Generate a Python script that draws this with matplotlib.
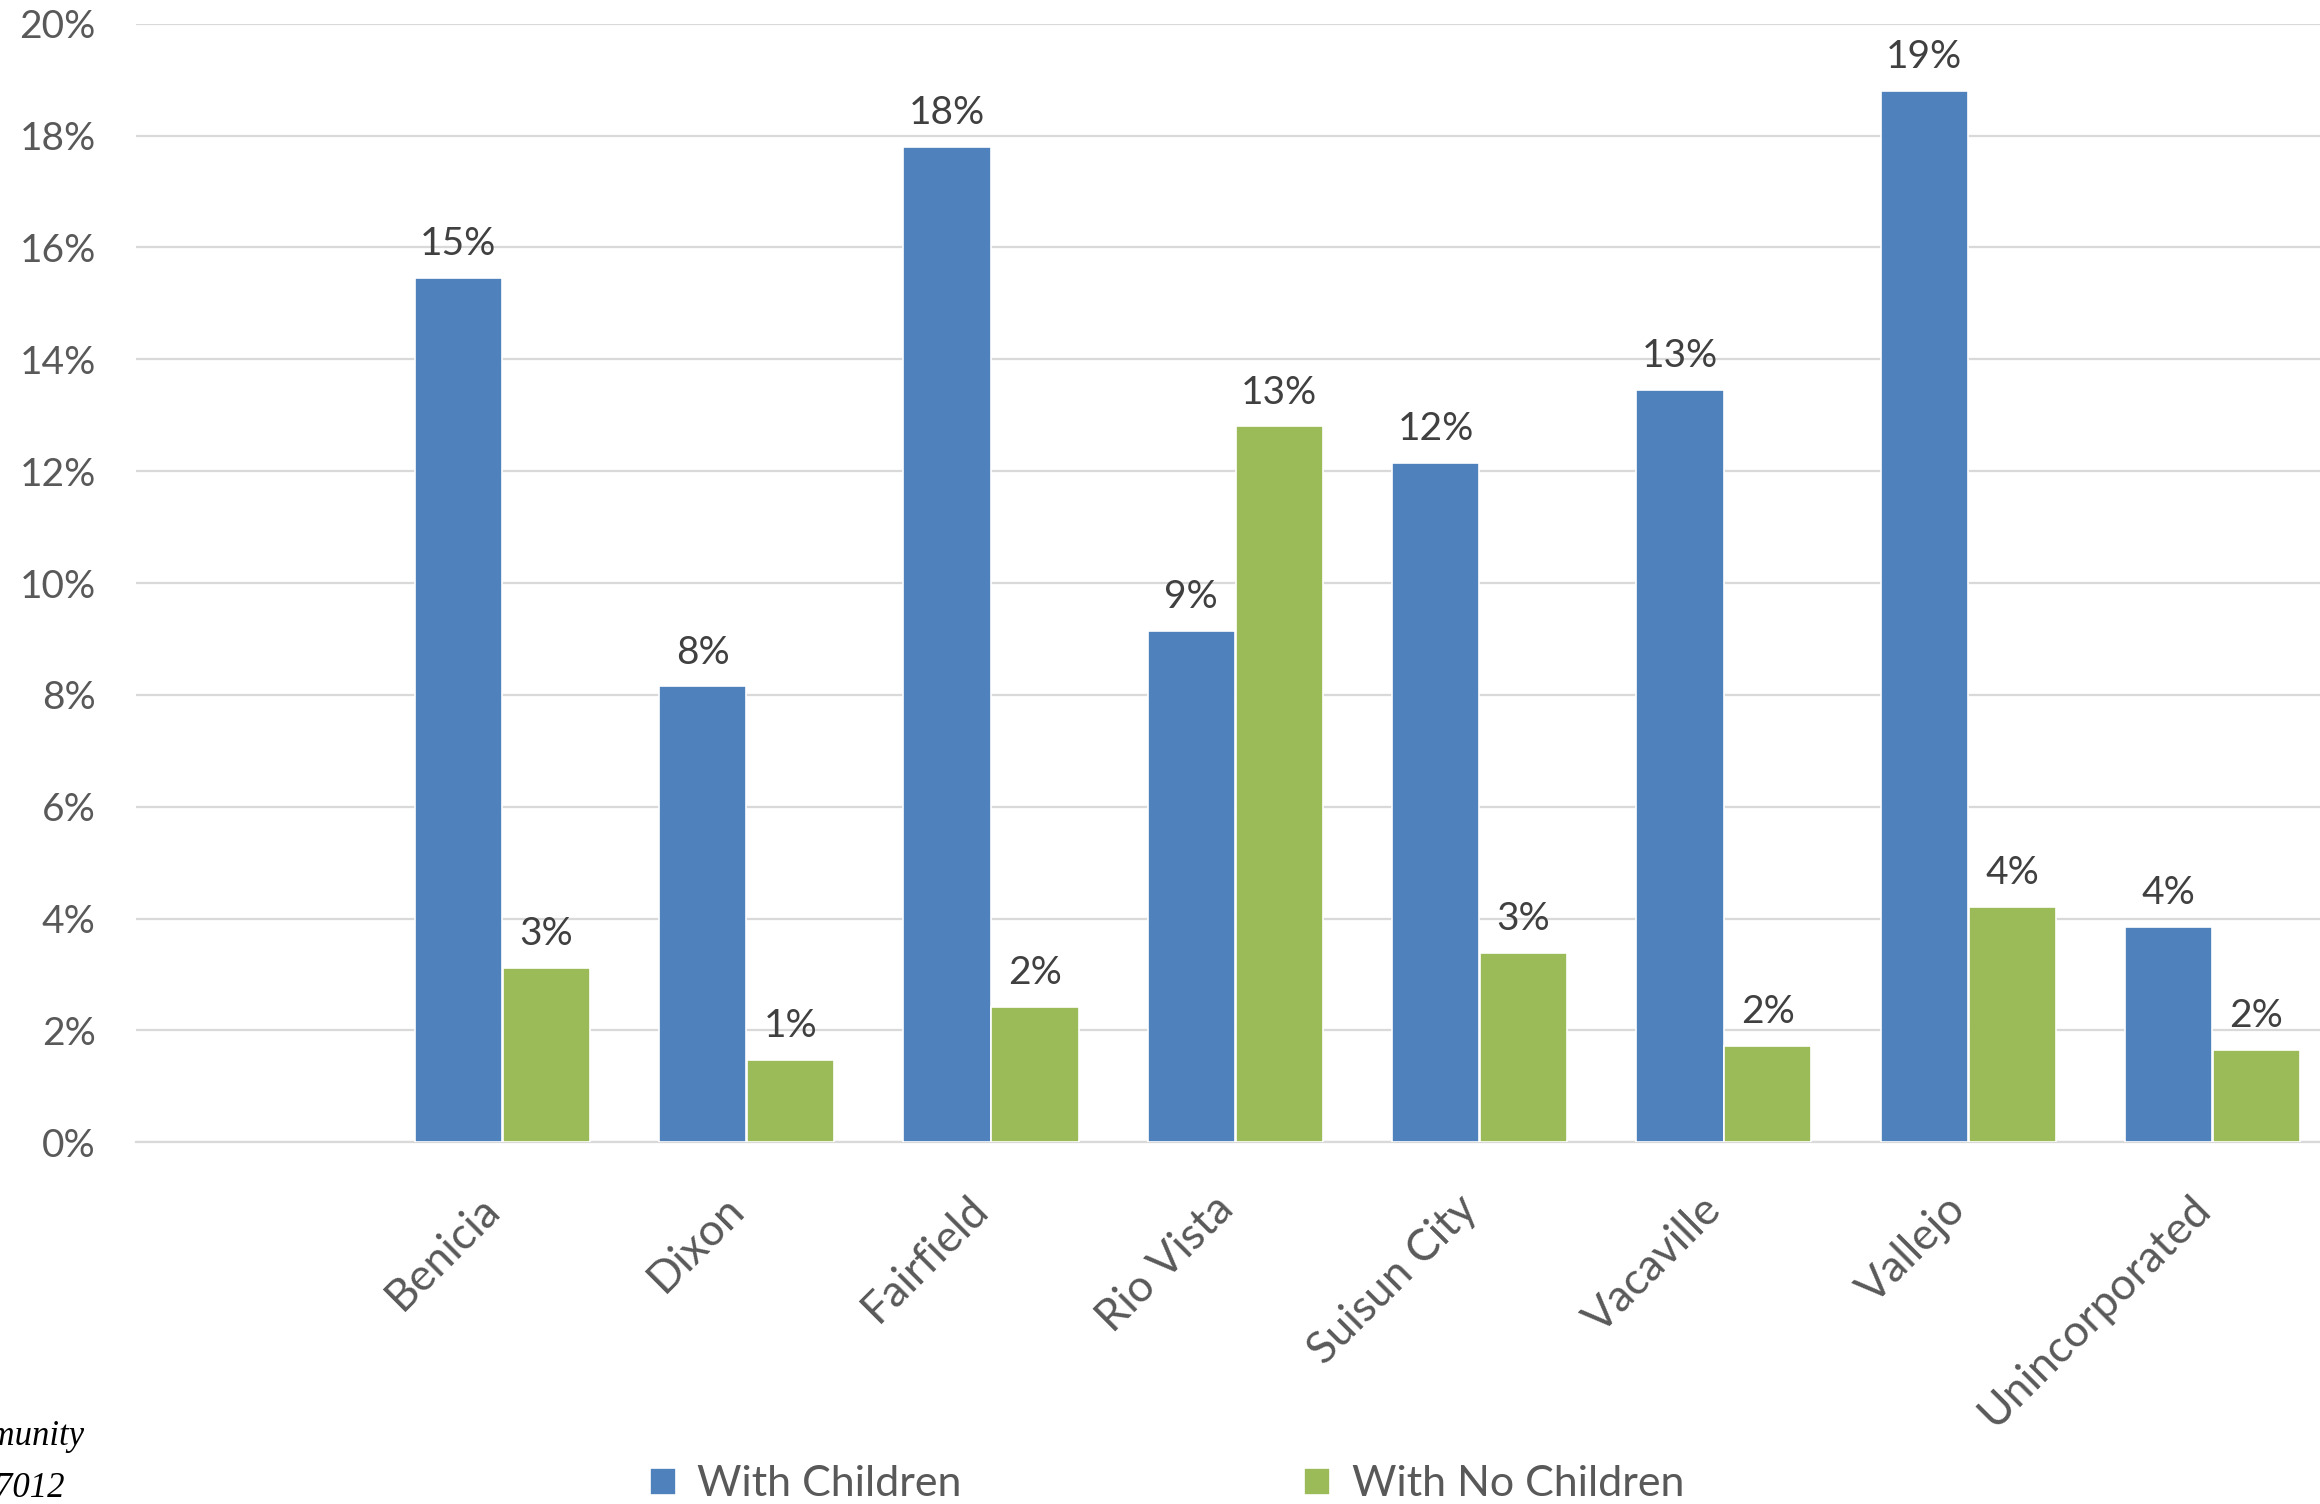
import matplotlib.pyplot as plt
from matplotlib.ticker import FuncFormatter
import numpy as np

plt.rcParams['font.family'] = ['Lato', 'DejaVu Sans']

cities = ["Benicia", "Dixon", "Fairfield", "Rio Vista", "Suisun City",
          "Vacaville", "Vallejo", "Unincorporated"]
with_children = [15.45, 8.15, 17.8, 9.15, 12.15, 13.45, 18.8, 3.85]
no_children = [3.12, 1.48, 2.42, 12.8, 3.38, 1.72, 4.2, 1.65]

blue = "#4F81BD"
green = "#9BBB59"
grid_col = "#d9d9d9"
tick_col = "#595959"
label_col = "#404040"

fig = plt.figure(figsize=(23.2, 15.04), dpi=100)
ax = fig.add_axes([0.0586, 0.2405, 0.9477, 0.7437])

x = np.arange(len(cities))
w = 0.357
b1 = ax.bar(x - 0.18, with_children, w, color=blue, edgecolor="white",
            linewidth=1.2, label="With Children", zorder=3)
b2 = ax.bar(x + 0.18, no_children, w, color=green, edgecolor="white",
            linewidth=1.2, label="With No Children", zorder=3)

for bars, vals in ((b1, with_children), (b2, no_children)):
    for rect, v in zip(bars, vals):
        ax.annotate(f"{v:.0f}%", (rect.get_x() + rect.get_width() / 2, v),
                    xytext=(0, 16.5), textcoords="offset points",
                    ha="center", va="baseline", fontsize=28, color=label_col)

ax.set_xlim(-1.5, len(cities) - 0.5)
ax.set_ylim(0, 20)
ax.set_yticks(np.arange(0, 21, 2))
ax.yaxis.set_major_formatter(FuncFormatter(lambda v, p: f"{v:.0f}%"))
ax.grid(axis="y", color=grid_col, linewidth=1.6, zorder=0)
ax.set_axisbelow(True)

for s in ("top", "right", "left"):
    ax.spines[s].set_visible(False)
ax.spines["bottom"].set_color(grid_col)
ax.spines["bottom"].set_linewidth(1.6)

ax.tick_params(axis="y", length=0, pad=29, labelsize=28, labelcolor=tick_col)
ax.tick_params(axis="x", length=0, pad=50, labelsize=32, labelcolor=tick_col)
ax.set_xticks(x)
ax.set_xticklabels(cities, rotation=45, ha="right", va="baseline",
                   rotation_mode="anchor")

leg = fig.legend(handles=[b1, b2], loc="center left", bbox_to_anchor=(0.2635, 0.013),
                 ncol=2, frameon=False, fontsize=31, handlelength=0.6,
                 handleheight=0.6, handletextpad=0.5, columnspacing=7.95)
for t in leg.get_texts():
    t.set_color(tick_col)

# source note along the left edge
fig.text(0.0362, 0.0392, "Source: U.S. Census Bureau, American Community",
         ha="right", va="baseline", fontsize=25, family="Liberation Serif",
         style="italic", color="black")
fig.text(0.0276, 0.0047, "Survey 5-Year Estimates, Table B17012",
         ha="right", va="baseline", fontsize=25, family="Liberation Serif",
         style="italic", color="black")

fig.savefig("out.png", dpi=100)
